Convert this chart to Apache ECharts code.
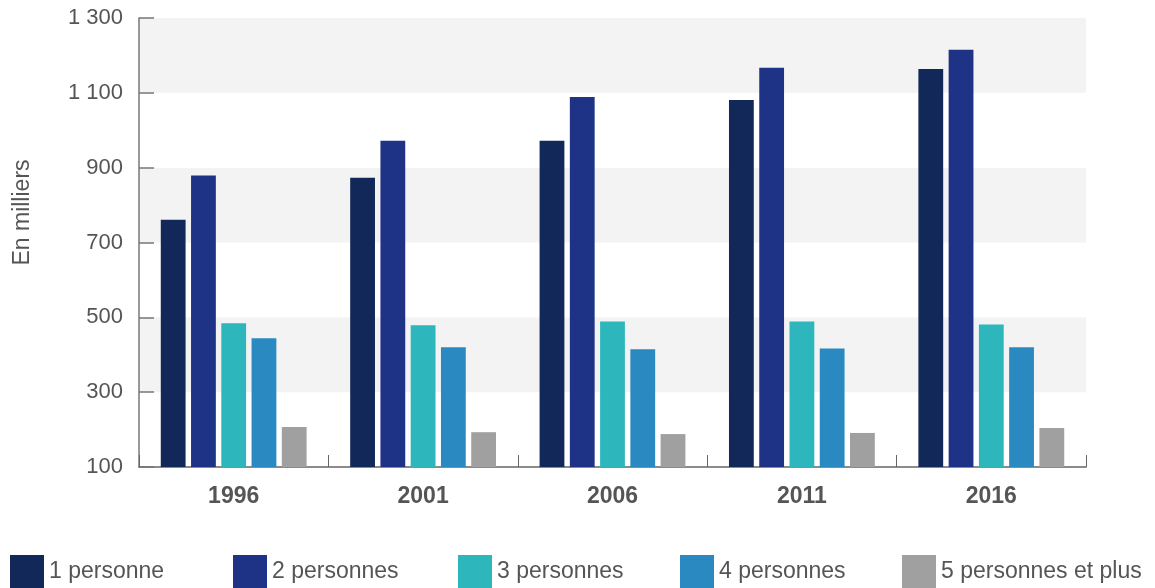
<!DOCTYPE html>
<html>
<head>
<meta charset="utf-8">
<script src="https://cdn.jsdelivr.net/npm/echarts@6/dist/echarts.min.js"></script>
<style>
  html, body { margin: 0; padding: 0; background: #fff; }
  #chart { width: 1155px; height: 588px; }
</style>
</head>
<body>
<div id="chart"></div>
<script>
// données (en milliers de ménages)
const years = ['1996', '2001', '2006', '2011', '2016']
const seriesNames = ['1 personne', '2 personnes', '3 personnes', '4 personnes', '5 personnes et plus']
const onePerson = [761, 873, 972, 1081, 1164]
const twoPersons = [879, 972, 1089, 1167, 1215]
const threePersons = [484, 479, 489, 489, 481]
const fourPersons = [444, 420, 415, 417, 420]
const fivePlus = [207, 193, 188, 191, 204]
const colors = ['#122858', '#1f3386', '#2db7bd', '#2a89c1', '#a0a0a0']

const font = "'Liberation Sans Narrow', 'Arial Narrow', sans-serif"
const values = [onePerson, twoPersons, threePersons, fourPersons, fivePlus]
const legendLeft = [5, 228, 453, 675, 897]

const chart = echarts.init(document.getElementById('chart'))

chart.setOption({
  animation: false,
  textStyle: { fontFamily: font },
  grid: { left: 139, right: 69, top: 18, bottom: 121 },
  // une légende par item pour garder l'espacement régulier
  legend: seriesNames.map((n, i) => ({
    data: [n],
    left: legendLeft[i],
    top: 550,
    itemWidth: 34,
    itemHeight: 34,
    itemGap: 8,
    icon: 'rect',
    textStyle: { fontFamily: font, fontSize: 23, color: '#555' }
  })),
  xAxis: {
    type: 'category',
    data: years,
    axisLine: { lineStyle: { color: '#666', width: 1.5 } },
    axisTick: { show: true, inside: true, length: 12, lineStyle: { color: '#666' } },
    axisLabel: { fontFamily: font, fontSize: 23, fontWeight: 'bold', color: '#555', margin: 18 }
  },
  yAxis: {
    type: 'value',
    min: 100,
    max: 1300,
    interval: 200,
    name: 'En milliers',
    nameLocation: 'middle',
    nameGap: 105,
    nameRotate: 90,
    nameTextStyle: { fontFamily: font, fontSize: 23, color: '#555', padding: [0, 0, 0, 60] },
    axisLine: { show: true, lineStyle: { color: '#777', width: 1.5 } },
    axisTick: { show: true, inside: true, length: 15, lineStyle: { color: '#777', width: 1.5 } },
    axisLabel: {
      fontFamily: font, fontSize: 22, color: '#555', margin: 16,
      formatter: v => String(v).replace(/\B(?=(\d{3})+(?!\d))/g, ' ')
    },
    splitLine: { show: false },
    splitArea: { show: true, areaStyle: { color: ['#ffffff', '#f3f3f3'] } }
  },
  series: seriesNames.map((n, i) => ({
    name: n,
    type: 'bar',
    data: values[i],
    itemStyle: { color: colors[i] },
    barGap: '22%',
    barCategoryGap: '23%'
  }))
})
</script>
</body>
</html>
